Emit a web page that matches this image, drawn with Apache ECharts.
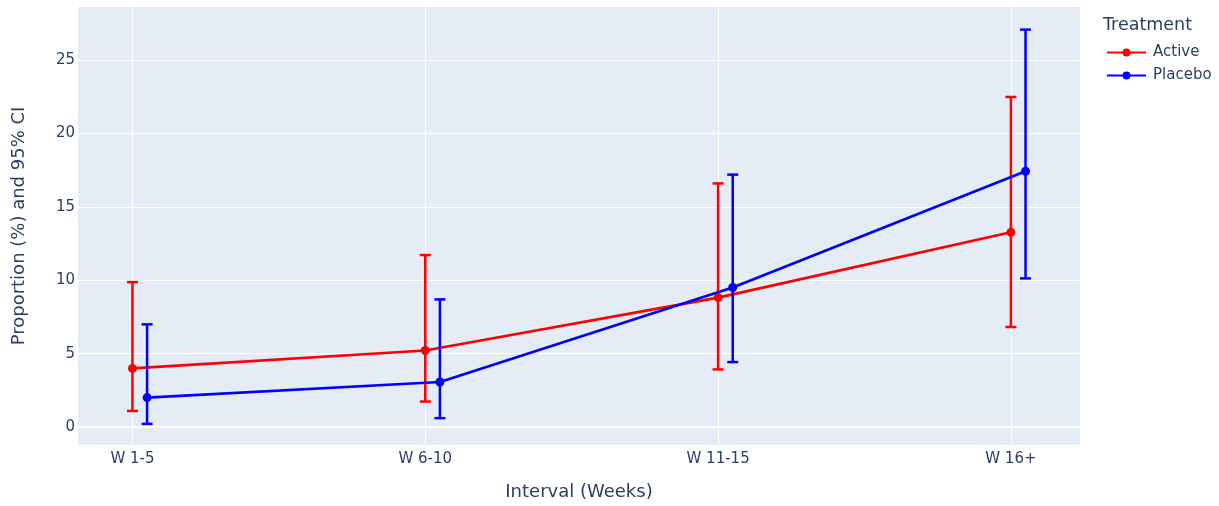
<!DOCTYPE html>
<html>
<head>
<meta charset="utf-8">
<script src="https://cdn.jsdelivr.net/npm/echarts@6/dist/echarts.min.js"></script>
<style>html,body{margin:0;padding:0;background:#fff}#c{width:1219px;height:506px}</style>
</head>
<body>
<div id="c"></div>
<script>
const categories = ['W 1-5', 'W 6-10', 'W 11-15', 'W 16+'];
const activeValues = [4.0, 5.22, 8.82, 13.27];
const activeLow = [1.1, 1.74, 3.93, 6.82];
const activeHigh = [9.88, 11.72, 16.6, 22.49];
const placeboValues = [2.01, 3.07, 9.51, 17.43];
const placeboLow = [0.22, 0.61, 4.43, 10.13];
const placeboHigh = [7.0, 8.7, 17.2, 27.08];
const yTicks = [0, 5, 10, 15, 20, 25];
const placeboOffset = 0.05;

const font = '"DejaVu Sans", Verdana, sans-serif';
const txt = '#2a3f5f';

function lineData(vals, off) { return vals.map((v, i) => [i + off, v]); }
function errData(lo, hi, off) { return lo.map((l, i) => [i + off, l, hi[i]]); }
function errRender(color) {
  return function (params, api) {
    const x = api.value(0);
    const p1 = api.coord([x, api.value(1)]);
    const p2 = api.coord([x, api.value(2)]);
    const w = 5.5;
    const st = { stroke: color, lineWidth: 2.5 };
    return {
      type: 'group',
      children: [
        { type: 'line', shape: { x1: p1[0], y1: p1[1], x2: p2[0], y2: p2[1] }, style: st },
        { type: 'line', shape: { x1: p1[0] - w, y1: p1[1], x2: p1[0] + w, y2: p1[1] }, style: st },
        { type: 'line', shape: { x1: p2[0] - w, y1: p2[1], x2: p2[0] + w, y2: p2[1] }, style: st }
      ]
    };
  };
}

const chart = echarts.init(document.getElementById('c'), null, { renderer: 'canvas' });
chart.setOption({
  animation: false,
  backgroundColor: '#ffffff',
  textStyle: { fontFamily: font, color: txt },
  title: {
    text: 'Treatment', left: 1098, top: 11,
    textStyle: { fontFamily: font, color: txt, fontSize: 17.5, fontWeight: 'normal' }
  },
  legend: {
    orient: 'vertical', left: 1101, top: 40, itemGap: 8,
    itemWidth: 39, itemHeight: 10,
    textStyle: { fontFamily: font, color: txt, fontSize: 15, lineHeight: 15, padding: [0, 0, 0, 2] },
    data: ['Active', 'Placebo']
  },
  grid: { left: 78, right: 139, top: 7, bottom: 59, show: true, backgroundColor: '#E5ECF6', borderWidth: 0 },
  xAxis: {
    type: 'value', min: -0.186, max: 3.236,
    name: 'Interval (Weeks)', nameLocation: 'middle', nameGap: 38,
    nameTextStyle: { fontFamily: font, color: txt, fontSize: 18 },
    axisLine: { show: false },
    axisTick: { show: false, customValues: [0, 1, 2, 3] },
    axisLabel: {
      customValues: [0, 1, 2, 3], margin: 7,
      fontFamily: font, color: txt, fontSize: 15,
      formatter: v => categories[Math.round(v)]
    },
    splitLine: { show: true, lineStyle: { color: '#ffffff', width: 1 } }
  },
  yAxis: {
    type: 'value', min: -1.22, max: 28.62,
    name: 'Proportion (%) and 95% CI', nameLocation: 'middle', nameGap: 50,
    nameTextStyle: { fontFamily: font, color: txt, fontSize: 18 },
    axisLine: { show: false },
    axisTick: { show: false, customValues: yTicks },
    axisLabel: { customValues: yTicks, margin: 3, fontFamily: font, color: txt, fontSize: 15 },
    splitLine: { show: true, lineStyle: { color: '#ffffff', width: 1 } }
  },
  series: [
    {
      name: 'ActiveErr', type: 'custom', renderItem: errRender('#ff0000'),
      data: errData(activeLow, activeHigh, 0), encode: { x: 0, y: [1, 2] }, silent: true, z: 2
    },
    {
      name: 'Active', type: 'line', data: lineData(activeValues, 0),
      color: '#ff0000', lineStyle: { width: 2.6, color: '#ff0000' },
      symbol: 'circle', symbolSize: 9, showAllSymbol: true, z: 3,
      itemStyle: { color: '#ff0000' }
    },
    {
      name: 'PlaceboErr', type: 'custom', renderItem: errRender('#0000ff'),
      data: errData(placeboLow, placeboHigh, placeboOffset), encode: { x: 0, y: [1, 2] }, silent: true, z: 4
    },
    {
      name: 'Placebo', type: 'line', data: lineData(placeboValues, placeboOffset),
      color: '#0000ff', lineStyle: { width: 2.6, color: '#0000ff' },
      symbol: 'circle', symbolSize: 9, showAllSymbol: true, z: 5,
      itemStyle: { color: '#0000ff' }
    },
    {
      name: 'zero', type: 'line', data: [],
      markLine: {
        silent: true, symbol: 'none', label: { show: false },
        lineStyle: { color: '#ffffff', width: 2, type: 'solid' },
        data: [{ yAxis: 0 }]
      }, z: 1
    }
  ]
});
</script>
</body>
</html>
